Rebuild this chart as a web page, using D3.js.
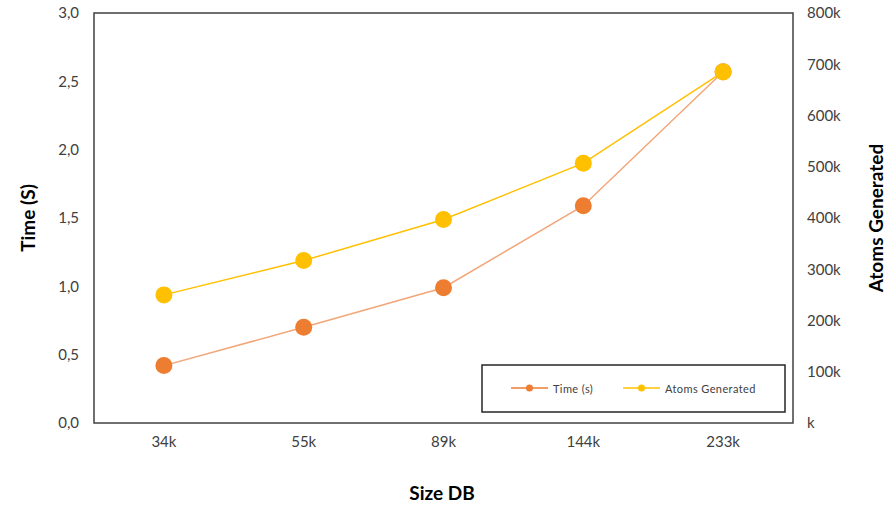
<!DOCTYPE html>
<html>
<head>
<meta charset="utf-8">
<script src="https://cdn.jsdelivr.net/npm/d3@7"></script>
<style>
  html, body { margin: 0; padding: 0; background: #fff; }
  svg { display: block; }
  text { font-family: Lato, "Open Sans", sans-serif; fill: #404040; }
</style>
</head>
<body>
<svg id="chart" width="887" height="506"></svg>
<script>
// Database sizes on the x axis
const sizes = ["34k", "55k", "89k", "144k", "233k"];
// Query time in seconds (left axis)
const timeSeconds = [0.42, 0.70, 0.99, 1.59, 2.57];
// Atoms generated (right axis)
const atomsGenerated = [250000, 317000, 397000, 507000, 685000];
// Axis ticks
const timeTicks = [0, 0.5, 1.0, 1.5, 2.0, 2.5, 3.0];
const atomTicks = [0, 100000, 200000, 300000, 400000, 500000, 600000, 700000, 800000];

const seriesNames = ["Time (s)", "Atoms Generated"];
const orange = "#ED7D31";
const yellow = "#FFC000";

const svg = d3.select("#chart");
const plot = { left: 94, top: 13, right: 793, bottom: 423 };

const x = d3.scaleBand().domain(sizes).range([plot.left, plot.right]);
const yTime = d3.scaleLinear().domain([0, 3]).range([plot.bottom, plot.top]);
const yAtoms = d3.scaleLinear().domain([0, 800000]).range([plot.bottom, plot.top]);

// Plot area frame
svg.append("rect")
  .attr("x", plot.left).attr("y", plot.top)
  .attr("width", plot.right - plot.left).attr("height", plot.bottom - plot.top)
  .attr("fill", "none").attr("stroke", "#404040").attr("stroke-width", 1.5);

const comma = v => d3.format(".1f")(v).replace(".", ",");

function styleTicks(g) {
  g.select(".domain").remove();
  g.selectAll("text")
    .style("font-size", "15px").style("fill", "#404040")
    .style("font-family", "Lato, sans-serif");
}

// Left axis
svg.append("g")
  .attr("transform", `translate(${plot.left},0)`)
  .call(d3.axisLeft(yTime).tickValues(timeTicks).tickFormat(comma).tickSize(0).tickPadding(15))
  .call(styleTicks);

// Right axis
svg.append("g")
  .attr("transform", `translate(${plot.right},0)`)
  .call(d3.axisRight(yAtoms).tickValues(atomTicks)
    .tickFormat(v => (v === 0 ? "" : d3.format("d")(v / 1000)) + "k").tickSize(0).tickPadding(14))
  .call(styleTicks);

// Bottom axis
svg.append("g")
  .attr("transform", `translate(0,${plot.bottom})`)
  .call(d3.axisBottom(x).tickSize(0).tickPadding(13))
  .call(styleTicks);

// Axis titles
function title(t, tx, ty, rot) {
  svg.append("text")
    .attr("transform", `translate(${tx},${ty})` + (rot ? " rotate(-90)" : ""))
    .attr("text-anchor", "middle").attr("dominant-baseline", "central")
    .style("font-size", "19px").style("font-weight", "bold").style("fill", "#000")
    .text(t);
}
title("Time (S)", 27, 218, true);
title("Atoms Generated", 875, 218, true);
title("Size DB", 442, 492, false);

const cx = d => x(d) + x.bandwidth() / 2;

// Series lines and markers
function drawSeries(values, yScale, color, lineColor) {
  const pts = sizes.map((s, i) => [cx(s), yScale(values[i])]);
  svg.append("path")
    .attr("d", d3.line()(pts))
    .attr("fill", "none").attr("stroke", lineColor).attr("stroke-width", 1.5);
  svg.append("g").selectAll("circle").data(pts).join("circle")
    .attr("cx", d => d[0]).attr("cy", d => d[1]).attr("r", 8.5)
    .attr("fill", color);
}
drawSeries(timeSeconds, yTime, orange, "#F2A679");
drawSeries(atomsGenerated, yAtoms, yellow, yellow);

// Legend
const legend = svg.append("g");
legend.append("rect")
  .attr("x", 482).attr("y", 365).attr("width", 303).attr("height", 47)
  .attr("fill", "#fff").attr("stroke", "#262626").attr("stroke-width", 1.5);
const legendItems = [
  { name: seriesNames[0], color: orange, x0: 511 },
  { name: seriesNames[1], color: yellow, x0: 623 }
];
legendItems.forEach(it => {
  legend.append("line")
    .attr("x1", it.x0).attr("x2", it.x0 + 37).attr("y1", 388).attr("y2", 388)
    .attr("stroke", it.color).attr("stroke-width", 1.5);
  legend.append("circle")
    .attr("cx", it.x0 + 18.5).attr("cy", 388).attr("r", 3.5).attr("fill", it.color);
  legend.append("text")
    .attr("x", it.x0 + 42).attr("y", 388).attr("dominant-baseline", "central")
    .style("font-size", "11px").style("letter-spacing", "0.4px").style("fill", "#404040")
    .text(it.name);
});
</script>
</body>
</html>
